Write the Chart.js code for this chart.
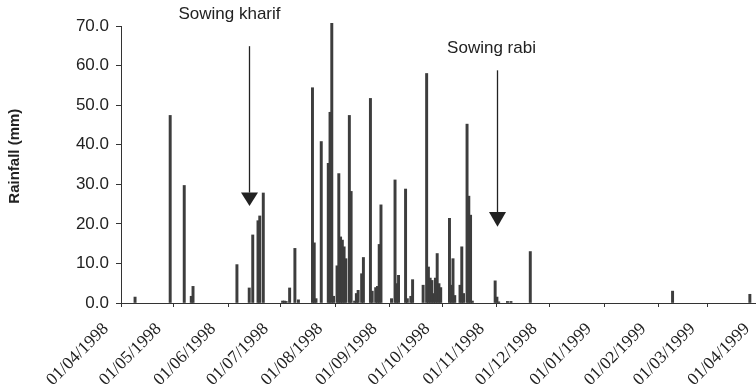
<!DOCTYPE html>
<html>
<head>
<meta charset="utf-8">
<script src="https://cdn.jsdelivr.net/npm/chart.js@4.4.0/dist/chart.umd.min.js"></script>
<style>
  html, body { margin: 0; padding: 0; overflow: hidden; background: #fff; }
  #wrap { width: 789px; height: 387px; }
</style>
</head>
<body>
<div id="wrap"><canvas id="rainChart"></canvas></div>
<script>
// daily rainfall, only the days with rain
const rainDates = [
  '09/04/1998', '29/04/1998', '07/05/1998', '11/05/1998', '12/05/1998',
  '06/06/1998', '13/06/1998', '15/06/1998', '18/06/1998', '19/06/1998', '21/06/1998',
  '02/07/1998', '03/07/1998', '04/07/1998', '06/07/1998', '09/07/1998', '11/07/1998',
  '19/07/1998', '20/07/1998', '21/07/1998', '24/07/1998', '28/07/1998', '29/07/1998',
  '30/07/1998', '31/07/1998',
  '02/08/1998', '03/08/1998', '04/08/1998', '05/08/1998', '06/08/1998', '07/08/1998',
  '09/08/1998', '10/08/1998', '12/08/1998', '13/08/1998', '14/08/1998', '16/08/1998',
  '17/08/1998', '21/08/1998', '22/08/1998', '24/08/1998', '25/08/1998', '26/08/1998',
  '27/08/1998',
  '02/09/1998', '04/09/1998', '05/09/1998', '06/09/1998', '10/09/1998', '11/09/1998',
  '13/09/1998', '14/09/1998', '20/09/1998', '22/09/1998', '23/09/1998', '24/09/1998',
  '25/09/1998', '26/09/1998', '27/09/1998', '28/09/1998', '29/09/1998', '30/09/1998',
  '05/10/1998', '06/10/1998', '07/10/1998', '08/10/1998', '11/10/1998', '12/10/1998',
  '13/10/1998', '15/10/1998', '16/10/1998', '17/10/1998', '18/10/1998', '31/10/1998',
  '01/11/1998', '02/11/1998', '07/11/1998', '09/11/1998', '20/11/1998',
  '09/02/1999', '25/03/1999'
];
const rainMm = [
  1.5, 47.4, 29.7, 1.7, 4.2,
  9.7, 3.8, 17.2, 20.8, 22.0, 27.8,
  0.5, 0.5, 0.4, 3.8, 13.8, 0.8,
  54.4, 15.2, 1.1, 40.8, 35.3, 48.2,
  70.7, 1.7,
  9.4, 32.7, 16.7, 15.9, 14.2, 11.2,
  47.4, 28.2, 0.5, 2.4, 3.2, 7.4,
  11.5, 51.7, 3.0, 3.9, 4.2, 14.8,
  24.8,
  1.1, 31.1, 4.9, 7.0, 28.8, 1.1,
  1.7, 5.9, 4.5, 58.0, 9.1, 6.3,
  5.7, 2.4, 6.3, 12.5, 4.9, 3.9,
  21.4, 4.5, 11.2, 1.9, 4.5, 14.2,
  2.4, 45.2, 27.0, 22.2, 0.5, 5.6,
  1.5, 0.3, 0.4, 0.4, 13.0,
  3.0, 2.2
];
const xTickLabels = [
  '01/04/1998', '01/05/1998', '01/06/1998', '01/07/1998', '01/08/1998', '01/09/1998',
  '01/10/1998', '01/11/1998', '01/12/1998', '01/01/1999', '01/02/1999', '01/03/1999',
  '01/04/1999'
];
const sowingLabels = ['Sowing kharif', 'Sowing rabi'];
const sowingDates = ['13/06/1998', '01/11/1998'];

const startDay = Date.UTC(1998, 3, 1);
function dayIndex(s) {
  const [d, m, y] = s.split('/').map(Number);
  return (Date.UTC(y, m - 1, d) - startDay) / 86400000;
}

const tickDays = xTickLabels.map(dayIndex);
const barData = rainDates.map((d, i) => ({ x: dayIndex(d), y: rainMm[i] }));

// arrow layout in axis units: text offset (px), text y, line top, head top, tip
const arrowLayout = [
  { dx: -20, text: 72.9, top: 64.9, head: 27.9, tip: 24.5 },
  { dx: -6, text: 64.3, top: 58.8, head: 23.0, tip: 19.3 }
];

const sowingArrows = {
  id: 'sowingArrows',
  afterDatasetsDraw(chart) {
    const { ctx, scales: { x, y } } = chart;
    ctx.save();
    ctx.strokeStyle = '#222';
    ctx.fillStyle = '#222';
    ctx.lineWidth = 1.3;
    sowingDates.forEach((d, i) => {
      const a = arrowLayout[i];
      const px = Math.round(x.getPixelForValue(dayIndex(d))) + 0.5;
      ctx.beginPath();
      ctx.moveTo(px, y.getPixelForValue(a.top));
      ctx.lineTo(px, y.getPixelForValue(a.head));
      ctx.stroke();
      ctx.beginPath();
      ctx.moveTo(px - 8.5, y.getPixelForValue(a.head));
      ctx.lineTo(px + 8.5, y.getPixelForValue(a.head));
      ctx.lineTo(px, y.getPixelForValue(a.tip));
      ctx.closePath();
      ctx.fill();
      ctx.font = '17px "Liberation Sans", Arial, sans-serif';
      ctx.textAlign = 'center';
      ctx.textBaseline = 'middle';
      ctx.fillText(sowingLabels[i], px + a.dx, y.getPixelForValue(a.text));
    });
    ctx.restore();
  }
};

new Chart(document.getElementById('rainChart'), {
  type: 'bar',
  data: {
    datasets: [{
      label: 'Rainfall',
      data: barData,
      backgroundColor: '#3d3d3d',
      barThickness: 2.3,
      clip: false
    }]
  },
  options: {
    responsive: true,
    maintainAspectRatio: false,
    animation: false,
    layout: { padding: { top: 26, right: 19, left: 0, bottom: 0 } },
    plugins: { legend: { display: false }, tooltip: { enabled: false } },
    scales: {
      x: {
        type: 'linear',
        offset: false,
        min: 0,
        max: 365,
        afterBuildTicks: (scale) => { scale.ticks = tickDays.map(v => ({ value: v })); },
        afterFit: (scale) => { scale.height = 84; },
        grid: { offset: false, drawOnChartArea: false, tickLength: 4, color: '#333' },
        border: { color: '#333' },
        ticks: {
          autoSkip: false,
          minRotation: 45,
          maxRotation: 45,
          padding: 12,
          labelOffset: -15,
          color: '#222',
          font: { family: '"Liberation Serif", "Times New Roman", serif', size: 17.5 },
          callback: (v) => xTickLabels[tickDays.indexOf(v)] || ''
        }
      },
      y: {
        min: 0,
        max: 70,
        afterFit: (scale) => { scale.width = 121; },
        grid: { drawOnChartArea: false, tickLength: 5, color: '#333' },
        border: { color: '#333' },
        ticks: {
          stepSize: 10,
          padding: 7,
          color: '#222',
          font: { family: '"Liberation Sans", Arial, sans-serif', size: 17 },
          callback: (v) => v.toFixed(1)
        },
        title: {
          display: true,
          text: '\u00a0\u00a0\u00a0\u00a0Rainfall (mm)',
          color: '#222',
          padding: { top: 6, bottom: 4 },
          font: { family: '"Liberation Sans", Arial, sans-serif', size: 15, weight: 'bold' }
        }
      }
    }
  },
  plugins: [sowingArrows]
});
</script>
</body>
</html>
